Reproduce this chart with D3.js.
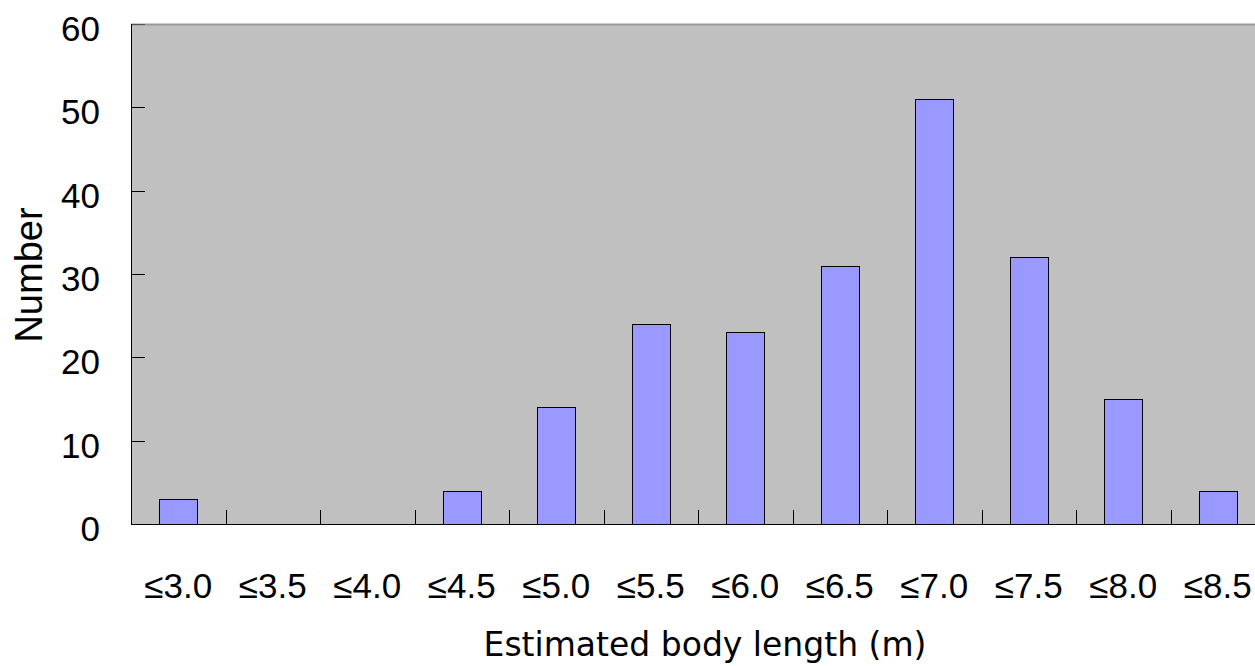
<!DOCTYPE html>
<html>
<head>
<meta charset="utf-8">
<script src="https://cdn.jsdelivr.net/npm/d3@7"></script>
<style>
  body { margin: 0; background: #fff; }
  svg { display: block; }
</style>
</head>
<body>
<script>
// histogram data
var categories = ["≤3.0", "≤3.5", "≤4.0", "≤4.5", "≤5.0", "≤5.5", "≤6.0", "≤6.5", "≤7.0", "≤7.5", "≤8.0", "≤8.5"];
var counts = [3, 0, 0, 4, 14, 24, 23, 31, 51, 32, 15, 4];
var yTicks = [0, 10, 20, 30, 40, 50, 60];

var w = 1255, h = 666;
var plotLeft = 131, plotTop = 24, plotBottom = 524;
var plotRight = plotLeft + 94.5 * categories.length; // runs past the window edge

var svg = d3.select("body").append("svg")
    .attr("width", w)
    .attr("height", h);

var x = d3.scaleBand()
    .domain(categories)
    .range([plotLeft, plotRight])
    .paddingInner(0.6)
    .paddingOuter(0.3);

var xb = d3.scaleBand().domain(categories).range([plotLeft, plotRight]);

var y = d3.scaleLinear().domain([0, 60]).range([plotBottom, plotTop]);

// plot background
svg.append("rect")
    .attr("x", plotLeft).attr("y", plotTop)
    .attr("width", plotRight - plotLeft).attr("height", plotBottom - plotTop)
    .attr("fill", "#c0c0c0");

svg.append("line")
    .attr("x1", plotLeft).attr("x2", plotRight)
    .attr("y1", plotTop + 0.5).attr("y2", plotTop + 0.5)
    .attr("stroke", "#999").attr("stroke-width", 2);

// bars
svg.append("g").selectAll("rect")
    .data(counts)
    .enter().append("rect")
    .attr("x", function(d, i) { return Math.round(x(categories[i])) + 0.5; })
    .attr("y", function(d) { return Math.round(y(d)) + 0.5; })
    .attr("width", Math.round(x.bandwidth()))
    .attr("height", function(d) { return d > 0 ? Math.round(y(0) - y(d)) : 0; })
    .attr("fill", "#9999ff")
    .attr("stroke", function(d) { return d > 0 ? "#000" : "none"; })
    .attr("stroke-width", 1);

// x ticks between categories (pointing up)
var bounds = d3.range(1, categories.length);
svg.append("g").selectAll("line")
    .data(bounds)
    .enter().append("line")
    .attr("x1", function(i) { return Math.round(plotLeft + xb.step() * i) + 0.5; })
    .attr("x2", function(i) { return Math.round(plotLeft + xb.step() * i) + 0.5; })
    .attr("y1", plotBottom).attr("y2", plotBottom - 14)
    .attr("stroke", "#000");

// y ticks pointing inward
svg.append("g").selectAll("line")
    .data(yTicks)
    .enter().append("line")
    .attr("x1", plotLeft).attr("x2", plotLeft + 14)
    .attr("y1", function(d) { return Math.round(y(d)) + 0.5; })
    .attr("y2", function(d) { return Math.round(y(d)) + 0.5; })
    .attr("stroke", function(d) { return d == 60 ? "#555" : "#000"; });

// axis lines
svg.append("line")
    .attr("x1", plotLeft + 0.5).attr("x2", plotLeft + 0.5)
    .attr("y1", plotTop).attr("y2", plotBottom + 1)
    .attr("stroke", "#000");
svg.append("line")
    .attr("x1", plotLeft).attr("x2", plotRight)
    .attr("y1", plotBottom + 0.5).attr("y2", plotBottom + 0.5)
    .attr("stroke", "#000");

// y labels
svg.append("g").selectAll("text")
    .data(yTicks)
    .enter().append("text")
    .attr("x", 100)
    .attr("y", function(d) { return y(d) + 17; })
    .attr("text-anchor", "end")
    .attr("font-family", "Liberation Sans, Arial, sans-serif")
    .attr("font-size", 35)
    .text(function(d) { return d; });

// x labels
svg.append("g").selectAll("text")
    .data(categories)
    .enter().append("text")
    .attr("x", function(d) { return xb(d) + xb.bandwidth() / 2; })
    .attr("y", 598)
    .attr("text-anchor", "middle")
    .attr("font-family", "Liberation Sans, Arial, sans-serif")
    .attr("font-size", 35)
    .text(function(d) { return d; });

// axis titles
svg.append("text")
    .attr("x", 705).attr("y", 656)
    .attr("text-anchor", "middle")
    .attr("font-family", "DejaVu Sans, sans-serif")
    .attr("font-size", 33)
    .text("Estimated body length (m)");

svg.append("text")
    .attr("transform", "translate(42,275) rotate(-90)")
    .attr("text-anchor", "middle")
    .attr("font-family", "Liberation Sans, Arial, sans-serif")
    .attr("font-size", 38)
    .text("Number");
</script>
</body>
</html>
